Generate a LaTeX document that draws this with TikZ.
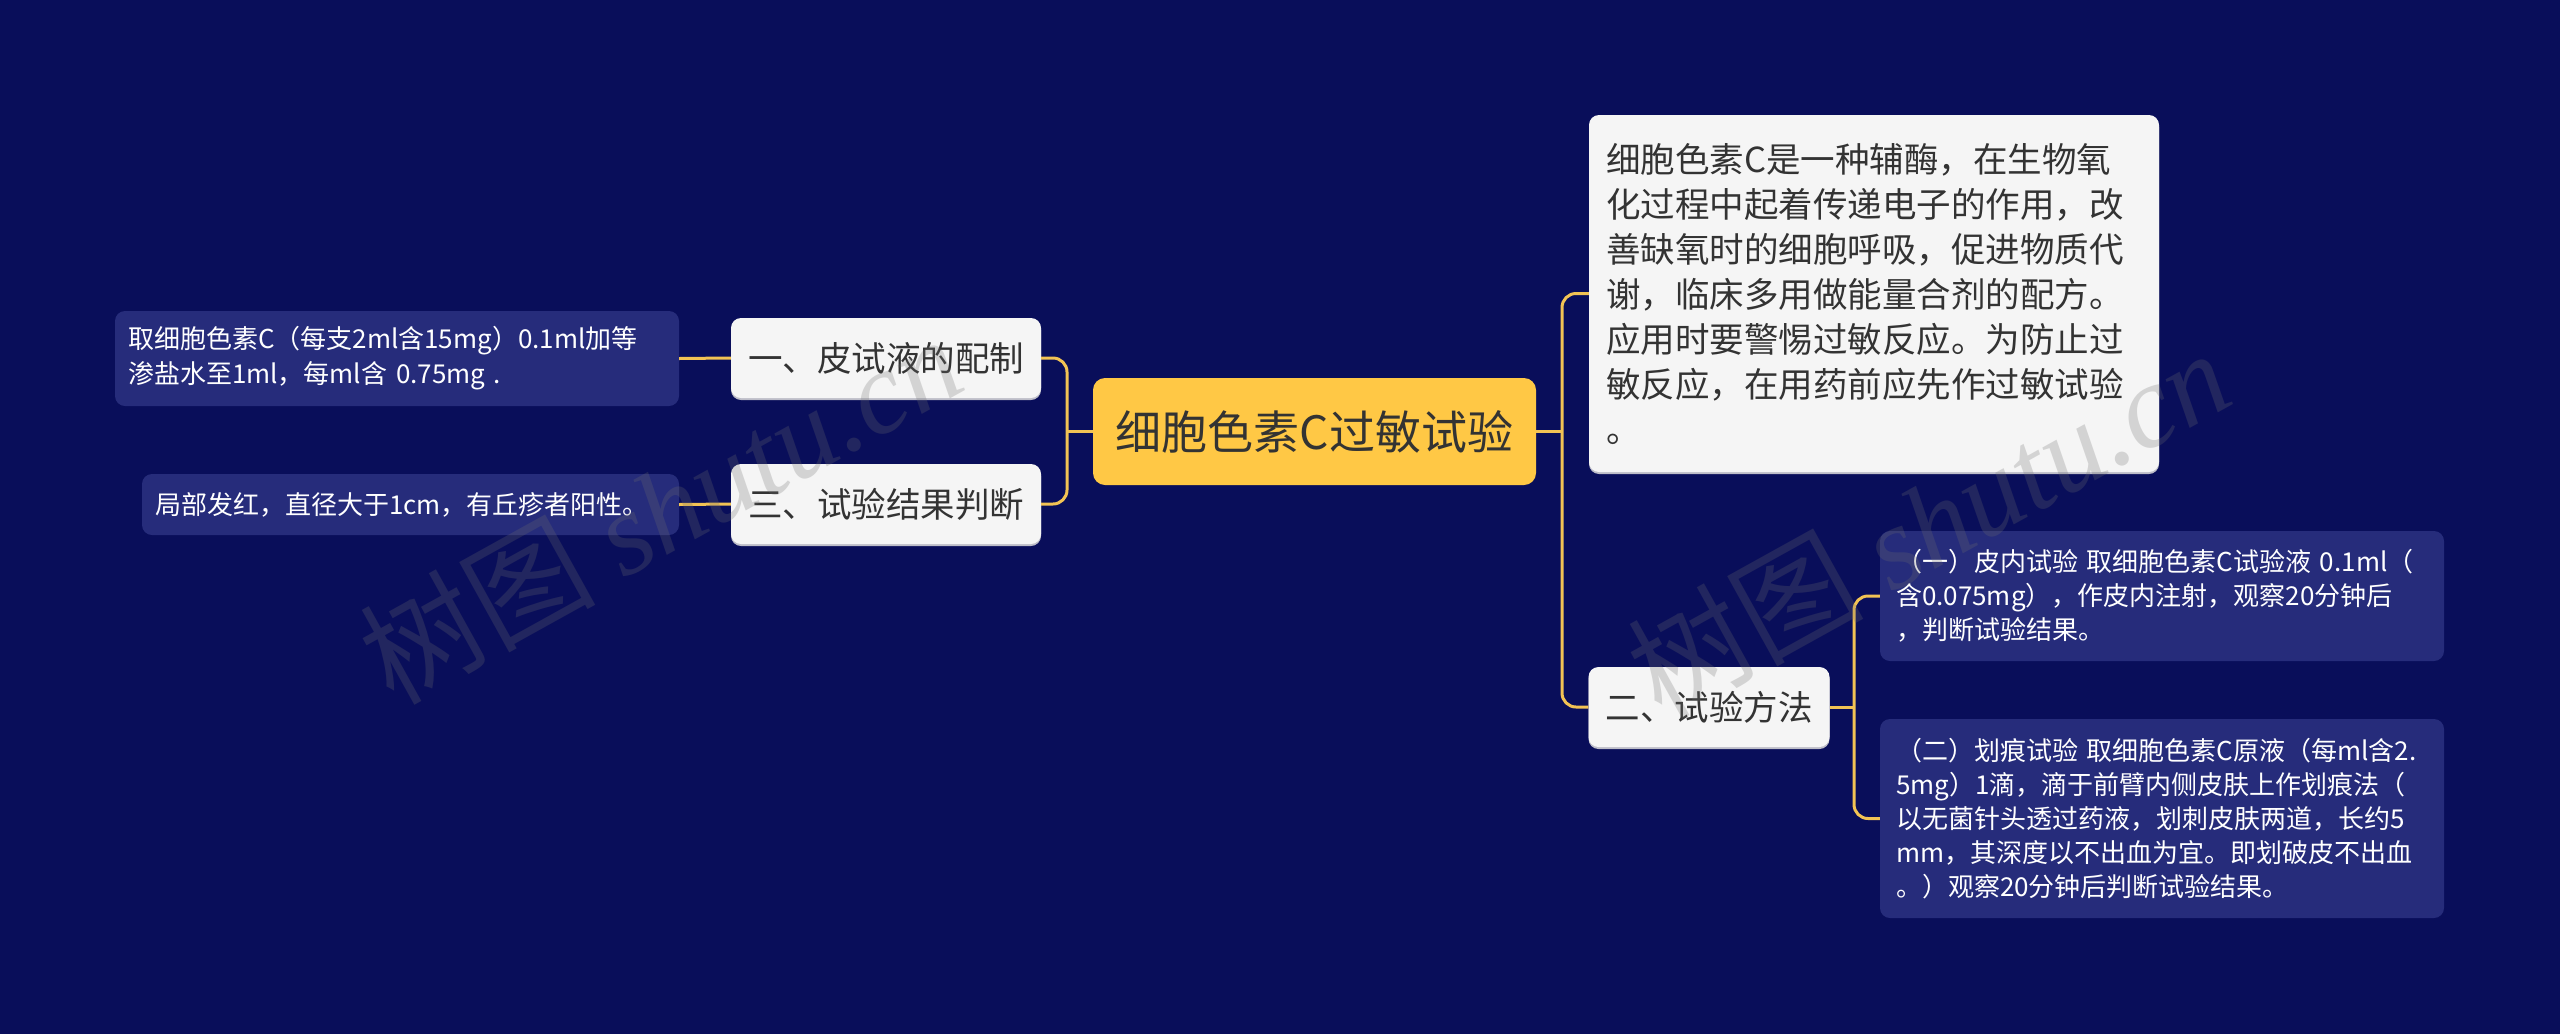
\documentclass[tikz,border=0pt]{standalone}
\usepackage{fontspec}
\setmainfont{Noto Sans CJK SC}
\newfontfamily\wmserif{Liberation Serif}
\definecolor{bgnavy}{HTML}{090E5A}
\definecolor{leafnavy}{HTML}{262C7B}
\definecolor{boxwhite}{HTML}{F5F5F5}
\definecolor{rootyel}{HTML}{FFC845}
\definecolor{linegold}{HTML}{F2C354}
\definecolor{darktext}{HTML}{333333}
\definecolor{wmgray}{HTML}{6E6E6E}
\definecolor{shadowgray}{HTML}{BDBDC8}
\tikzset{
  conn/.style={draw=linegold,line width=3pt,rounded corners=14pt},
  whitebox/.style={rectangle,rounded corners=10pt,fill=boxwhite,text=darktext,inner sep=0pt,align=center,
    preaction={fill=shadowgray,transform canvas={yshift=-2pt}},font=\fontsize{34.5}{45}\selectfont},
  leafbox/.style={rectangle,rounded corners=10pt,fill=leafnavy,text=white,inner ysep=0pt,align=left,font=\fontsize{26}{35}\selectfont},
  rootbox/.style={rectangle,rounded corners=12pt,fill=rootyel,text=darktext,inner sep=0pt,align=center,font=\fontsize{46}{56}\selectfont},
  watermark/.style={text=wmgray,text opacity=0.25,rotate=29,font=\fontsize{118}{124}\selectfont}
}
\begin{document}
\begin{tikzpicture}[x=1pt,y=-1pt]
\fill[bgnavy] (0,0) rectangle (2560,1034);
\useasboundingbox (0,0) rectangle (2560,1034);

% root
\node[rootbox,minimum width=443pt,minimum height=107pt] (root) at (1314.5,431.5) {细胞色素C过敏试验};

% right side
\node[whitebox,align=left,text width=536pt,inner xsep=17pt,minimum height=357pt] (desc) at (1874,293.5)
 {细胞色素C是一种辅酶，在生物氧\\化过程中起着传递电子的作用，改\\善缺氧时的细胞呼吸，促进物质代\\谢，临床多用做能量合剂的配方。\\应用时要警惕过敏反应。为防止过\\敏反应，在用药前应先作过敏试验\\。};
\node[whitebox,minimum width=241pt,minimum height=80pt] (n2) at (1709,707) {二、试验方法};
\node[leafbox,text width=532pt,inner xsep=16pt,minimum height=130pt,font=\fontsize{26}{34}\selectfont] (s1) at (2162,596)
 {（一）皮内试验 取细胞色素C试验液 0.1ml（\\含0.075mg），作皮内注射，观察20分钟后\\，判断试验结果。};
\node[leafbox,text width=532pt,inner xsep=16pt,minimum height=199pt,font=\fontsize{26}{34}\selectfont] (s2) at (2162,818.5)
 {（二）划痕试验 取细胞色素C原液（每ml含2.\\5mg）1滴，滴于前臂内侧皮肤上作划痕法（\\以无菌针头透过药液，划刺皮肤两道，长约5\\mm，其深度以不出血为宜。即划破皮不出血\\。）观察20分钟后判断试验结果。};

% left side
\node[whitebox,minimum width=310pt,minimum height=80pt] (n1) at (886,358) {一、皮试液的配制};
\node[whitebox,minimum width=310pt,minimum height=80pt] (n3) at (886,504) {三、试验结果判断};
\node[leafbox,text width=538pt,inner xsep=13pt,minimum height=95pt] (l1) at (397,358.5)
 {取细胞色素C（每支2ml含15mg）0.1ml加等\\渗盐水至1ml，每ml含 0.75mg .};
\node[leafbox,text width=511pt,inner xsep=13pt,minimum height=61pt] (l3) at (410.5,504.5)
 {局部发红，直径大于1cm，有丘疹者阳性。};

% connectors
\coordinate (jl) at (1067,431.5);
\coordinate (jr) at (1562,431.5);
\coordinate (j2) at (1854,707);
\draw[conn] (root.west) -- (jl);
\draw[conn] (n1.east) -| (jl) |- (n3.east);
\draw[conn] (root.east) -- (jr);
\draw[conn] (desc.west) -| (jr) |- (n2.west);
\draw[conn] (n2.east) -- (j2);
\draw[conn] (s1.west) -| (j2) |- (s2.west);
\draw[conn] (l1.east) -- (n1.west);
\draw[conn] (l3.east) -- (n3.west);

% watermarks
\node[watermark] (wm1) at (660,508) {树图 {\wmserif\itshape shutu.cn}};
\node[watermark] (wm2) at (1928,522) {树图 {\wmserif\itshape shutu.cn}};
\end{tikzpicture}
\end{document}
